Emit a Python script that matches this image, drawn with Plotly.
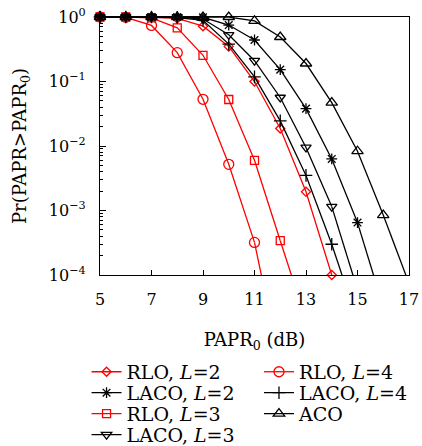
import numpy as np
import plotly.graph_objects as go

# PAPR threshold grid (dB)
papr_db = [5, 6, 7, 8, 9, 10, 11, 12, 13, 14, 15, 16, 17]

# CCDF values Pr(PAPR > PAPR0) per scheme, starting at 5 dB
rlo_l2 = [1.0, 1.0, 1.0, 0.95, 0.72, 0.35, 0.10, 0.0187, 0.00195, 1.0e-4]
laco_l2 = [1.0, 1.0, 1.0, 1.0, 0.99, 0.75, 0.44, 0.153, 0.038, 0.0063, 6.5e-4, 3.2e-5]
rlo_l3 = [1.0, 1.0, 0.97, 0.68, 0.255, 0.0526, 0.006, 3.4e-4, 2.0e-5]
laco_l3 = [1.0, 1.0, 1.0, 1.0, 0.93, 0.53, 0.21, 0.0565, 0.0095, 0.00115, 5.9e-5]
rlo_l4 = [1.0, 0.99, 0.74, 0.28, 0.053, 0.0052, 3.2e-4, 4.0e-6]
laco_l4 = [1.0, 1.0, 1.0, 0.98, 0.89, 0.38, 0.118, 0.0245, 0.0035, 3.0e-4, 1.9e-5]
aco = [1.0, 1.0, 1.0, 1.0, 1.0, 1.0, 0.87, 0.49, 0.19, 0.047, 0.0083, 8.5e-4, 7.4e-5]

# y-axis decades and tick labels
y_ticks = [1e-4, 1e-3, 1e-2, 1e-1, 1.0]
y_ticktext = ["10<sup>−4</sup>", "10<sup>−3</sup>", "10<sup>−2</sup>",
              "10<sup>−1</sup>", "10<sup>0</sup>"]
x_ticks = [5, 7, 9, 11, 13, 15, 17]

Y_FLOOR = 1e-4
RED = "#ff0000"
BLACK = "#000000"
FONT = "DejaVu Serif"

series = [
    # name, values, colour, symbol, marker size, legend id, (row, col)
    ("RLO, <i>L</i>=2", rlo_l2, RED, "diamond-open", 7, "legend", (0, 0)),
    ("RLO, <i>L</i>=3", rlo_l3, RED, "square-open", 8, "legend2", (2, 0)),
    ("RLO, <i>L</i>=4", rlo_l4, RED, "circle-open", 10, "legend3", (0, 1)),
    ("LACO, <i>L</i>=2", laco_l2, BLACK, "asterisk-open", 9, "legend4", (1, 0)),
    ("LACO, <i>L</i>=3", laco_l3, BLACK, "triangle-down-open", 9, "legend5", (3, 0)),
    ("LACO, <i>L</i>=4", laco_l4, BLACK, "cross-thin-open", 9, "legend6", (1, 1)),
    ("ACO", aco, BLACK, "triangle-up-open", 10, "legend7", (2, 1)),
]

fig = go.Figure()

for name, vals, col, sym, msize, leg, _ in series:
    x = np.array(papr_db[:len(vals)], dtype=float)
    y = np.array(vals, dtype=float)
    inside = y >= Y_FLOOR * 0.999
    last_in = int(np.nonzero(inside)[0].max())
    # visible part: line with markers, markers not clipped at the frame
    fig.add_trace(go.Scatter(
        x=x[inside], y=y[inside], mode="lines+markers", name=name,
        legend=leg, cliponaxis=False,
        line=dict(color=col, width=1.3),
        marker=dict(symbol=sym, size=msize, color=col,
                    line=dict(color=col, width=1.3)),
    ))
    # tail running below the lower axis limit (line only, clipped)
    if last_in < len(y) - 1:
        fig.add_trace(go.Scatter(
            x=x[last_in:], y=y[last_in:], mode="lines", showlegend=False,
            line=dict(color=col, width=1.3), hoverinfo="skip",
        ))

# plot-area geometry in pixels
W, H = 422, 446
ML, MR, MT, MB = 99.5, 12.5, 16.7, 171
PW, PH = W - ML - MR, H - MT - MB

col_px = [86, 259]
row_px = [372, 393, 414, 435]
legend_font = dict(family=FONT, size=19, color="black")
legends = {}
for _, _, _, _, _, leg, (r, c) in series:
    legends[leg] = dict(
        x=(col_px[c] - ML) / PW, y=(H - MB - row_px[r]) / PH,
        xanchor="left", yanchor="middle", orientation="v",
        bgcolor="rgba(0,0,0,0)", borderwidth=0, itemwidth=30,
        font=legend_font,
    )

minor_vals = [m * 10.0 ** e for e in range(-4, 0) for m in range(2, 10)]

fig.update_layout(
    width=W, height=H,
    margin=dict(l=ML, r=MR, t=MT, b=MB, autoexpand=False),
    paper_bgcolor="white", plot_bgcolor="white",
    font=dict(family=FONT, size=16, color="black"),
    xaxis=dict(
        range=[5, 17], tickvals=x_ticks, ticks="inside", ticklen=5,
        tickwidth=1, tickcolor="black", showline=True, linecolor="black",
        linewidth=1.2, mirror=True, showgrid=False, zeroline=False,
        tickfont=dict(size=16), ticklabelstandoff=10,
        title=dict(text="PAPR<sub>0</sub> (dB)", font=dict(size=18), standoff=25),
    ),
    yaxis=dict(
        type="log", range=[-4, 0], tickvals=y_ticks, ticktext=y_ticktext,
        ticks="inside", ticklen=6, tickwidth=1, tickcolor="black",
        showline=True, linecolor="black", linewidth=1.2, mirror=True,
        showgrid=False, zeroline=False, tickfont=dict(size=16),
        ticklabelstandoff=10,
        minor=dict(tickvals=minor_vals, ticks="inside", ticklen=3,
                   tickcolor="black", showgrid=False),
        title=dict(text="Pr(PAPR&gt;PAPR<sub>0</sub>)", font=dict(size=18), standoff=17),
    ),
    **legends,
)

fig.write_html("out.html")
